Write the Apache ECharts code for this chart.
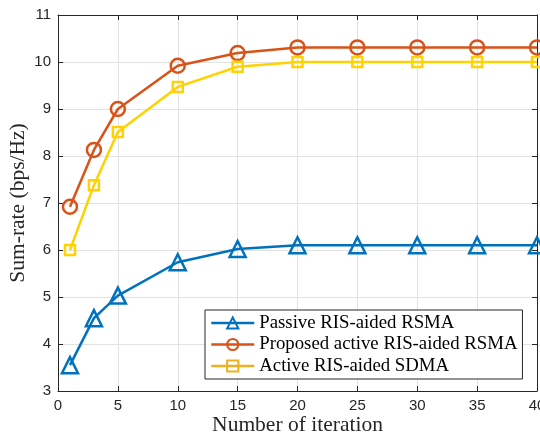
<!DOCTYPE html>
<html><head><meta charset="utf-8">
<script src="https://cdn.jsdelivr.net/npm/echarts@6/dist/echarts.min.js"></script>
<style>html,body{margin:0;padding:0;background:#fff}#c{width:540px;height:436px}</style>
</head><body><div id="c"></div>
<script>
const iterations = [1, 3, 5, 10, 15, 20, 25, 30, 35, 40];
const passiveRSMA = [3.55, 4.55, 5.03, 5.74, 6.02, 6.1, 6.1, 6.1, 6.1, 6.1];
const activeRSMA = [6.92, 8.13, 9.0, 9.92, 10.19, 10.31, 10.31, 10.31, 10.31, 10.31];
const activeSDMA = [6.0, 7.38, 8.51, 9.47, 9.9, 10.0, 10.0, 10.0, 10.0, 10.0];
const seriesNames = ['Passive RIS-aided RSMA', 'Proposed active RIS-aided RSMA', 'Active RIS-aided SDMA'];
const xTicks = [0, 5, 10, 15, 20, 25, 30, 35, 40];
const yTicks = [3, 4, 5, 6, 7, 8, 9, 10, 11];

const colors = ['#0072BD', '#D95319', '#FFD200'];
const legendColors = ['#0072BD', '#D95319', '#EDB120'];
const symbols = ['triangle', 'circle', 'rect'];
const sizes = [16, 14, 10];
const dataSets = [passiveRSMA, activeRSMA, activeSDMA];

const chart = echarts.init(document.getElementById('c'), null, {renderer: 'canvas'});
const tickFont = {fontFamily: 'Liberation Sans, Arial, sans-serif', fontSize: 15, color: '#262626'};
const axisBase = {
  axisLine: {show: true, onZero: false, lineStyle: {color: '#262626', width: 1}},
  axisTick: {show: true, inside: true, length: 5, lineStyle: {color: '#262626'}},
};
chart.setOption({
  animation: false,
  backgroundColor: '#fff',
  grid: {left: 58, right: 3, top: 15, bottom: 45, outerBoundsMode: 'none', containLabel: false},
  xAxis: [
    Object.assign({}, axisBase, {
      type: 'value', min: 0, max: 40, interval: 5,
      name: 'Number of iteration', nameLocation: 'middle', nameGap: 23, nameMoveOverlap: false,
      nameTextStyle: {fontFamily: 'Liberation Serif, Times New Roman, serif', fontSize: 21.5, color: '#262626', verticalAlign: 'top'},
      axisLabel: Object.assign({margin: 7, showMaxLabel: true}, tickFont),
      splitLine: {show: true, lineStyle: {color: '#e2e2e2', width: 1}}
    }),
    Object.assign({}, axisBase, {
      type: 'value', min: 0, max: 40, interval: 5, position: 'top',
      axisLabel: {show: false}, splitLine: {show: false}
    })
  ],
  yAxis: [
    Object.assign({}, axisBase, {
      type: 'value', min: 3, max: 11, interval: 1,
      name: 'Sum-rate (bps/Hz)', nameLocation: 'middle', nameGap: 29, nameMoveOverlap: false,
      nameTextStyle: {fontFamily: 'Liberation Serif, Times New Roman, serif', fontSize: 21.5, color: '#262626'},
      axisLabel: Object.assign({margin: 7}, tickFont),
      splitLine: {show: true, lineStyle: {color: '#e2e2e2', width: 1}}
    }),
    Object.assign({}, axisBase, {
      type: 'value', min: 3, max: 11, interval: 1, position: 'right',
      axisLabel: {show: false}, splitLine: {show: false}
    })
  ],
  legend: {
    orient: 'vertical', left: 205, top: 310, width: 318,
    padding: [3, 5, 3, 5], itemGap: 1.5, itemWidth: 43, itemHeight: 14,
    backgroundColor: '#fff', borderColor: '#262626', borderWidth: 1, borderRadius: 0,
    textStyle: {fontFamily: 'Liberation Serif, Times New Roman, serif', fontSize: 18.8, lineHeight: 20, color: '#000', padding: [0, 0, 0, 0]},
    data: seriesNames.map((n, i) => ({
      name: n,
      itemStyle: {color: 'rgba(0,0,0,0)', borderColor: legendColors[i], borderWidth: 2},
      lineStyle: {color: legendColors[i], width: 2.5}
    }))
  },
  series: dataSets.map((d, i) => ({
    name: seriesNames[i], type: 'line',
    data: iterations.map((x, j) => [x, d[j]]),
    symbol: symbols[i], symbolSize: sizes[i], showAllSymbol: true,
    lineStyle: {color: colors[i], width: 2.5},
    itemStyle: {color: 'rgba(255,255,255,0)', borderColor: colors[i], borderWidth: 2.5},
    clip: false, z: 3 + i
  }))
});
</script></body></html>
